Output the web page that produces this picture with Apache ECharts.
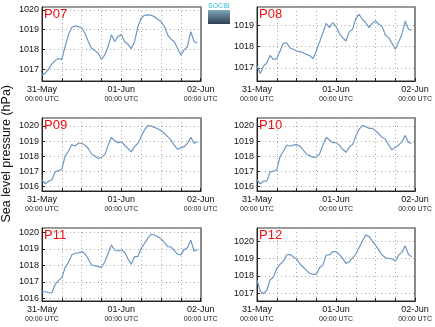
<!DOCTYPE html>
<html>
<head>
<meta charset="utf-8">
<script src="https://cdn.jsdelivr.net/npm/echarts@6/dist/echarts.min.js"></script>
<style>html,body{margin:0;padding:0;background:#fff}#c{width:435px;height:327px}</style>
</head>
<body>
<div id="c"></div>
<script>
// ---- data ----
const hours = [0,1,2,3,4,5,6,7,8,9,10,11,12,13,14,15,16,17,18,19,20,21,22,23,24,25,26,27,28,29,30,31,32,33,34,35,36,37,38,39,40,41,42,43,44,45,46,47];
const xTickHours = [0, 24, 48];
const xTickDates = ['31-May', '01-Jun', '02-Jun'];
const xTickTimes = ['00:00 UTC', '00:00 UTC', '00:00 UTC'];
const panelNames = ['P07', 'P08', 'P09', 'P10', 'P11', 'P12'];
const yMins = [1016.4, 1016.38, 1015.7, 1015.7, 1015.84, 1016.56];
const yMaxs = [1020.15, 1019.86, 1020.53, 1020.53, 1020.26, 1020.75];
const yTitle = 'Sea level pressure (hPa)';

const p07 = [1016.71,1016.80,1017.00,1017.27,1017.44,1017.54,1017.50,1018.15,1018.74,1019.12,1019.19,1019.16,1019.09,1018.82,1018.40,1018.06,1017.94,1017.81,1017.50,1017.72,1018.15,1018.74,1018.40,1018.65,1018.75,1018.40,1018.26,1018.04,1018.40,1019.16,1019.58,1019.73,1019.75,1019.73,1019.66,1019.53,1019.41,1019.16,1018.74,1018.52,1018.40,1018.06,1017.72,1017.98,1018.15,1018.90,1018.40,1018.31];
const p08 = [1017.08,1016.73,1017.08,1017.24,1017.58,1017.39,1017.43,1017.79,1018.15,1018.18,1017.94,1017.87,1017.79,1017.76,1017.71,1017.63,1017.58,1017.43,1017.79,1018.21,1018.65,1019.09,1018.89,1019.13,1018.94,1018.62,1018.42,1018.26,1018.69,1018.81,1019.31,1019.52,1019.28,1019.13,1018.89,1019.09,1019.20,1019.05,1018.94,1018.53,1018.42,1018.15,1017.87,1018.21,1018.57,1019.20,1018.81,1018.78];
const p09 = [1016.44,1016.18,1016.35,1016.44,1016.97,1017.05,1017.14,1018.02,1018.33,1018.77,1018.68,1018.86,1018.86,1018.73,1018.51,1018.15,1018.02,1017.85,1017.93,1018.09,1018.75,1019.25,1019.03,1018.90,1018.95,1018.73,1018.51,1018.29,1018.64,1018.86,1019.30,1019.74,1020.02,1020.00,1019.91,1019.82,1019.69,1019.52,1019.30,1019.08,1018.73,1018.46,1018.55,1018.64,1018.86,1019.25,1018.86,1018.95];
const p10 = [1016.44,1016.18,1016.35,1016.35,1016.97,1017.01,1017.10,1017.98,1018.33,1018.73,1018.68,1018.73,1018.77,1018.68,1018.42,1018.15,1018.04,1017.93,1017.96,1018.15,1018.75,1019.25,1019.08,1018.90,1018.90,1018.73,1018.46,1018.26,1018.59,1018.77,1019.34,1019.78,1020.04,1019.96,1019.85,1019.85,1019.69,1019.47,1019.25,1019.12,1018.73,1018.42,1018.59,1018.73,1018.95,1019.38,1018.90,1018.86];
const p11 = [1016.40,1016.40,1016.34,1016.34,1016.85,1017.09,1017.25,1017.86,1018.18,1018.63,1018.73,1018.75,1018.83,1018.71,1018.38,1018.02,1017.98,1017.92,1017.88,1018.22,1018.73,1019.23,1018.93,1018.87,1018.93,1018.79,1018.38,1018.06,1018.53,1018.53,1019.03,1019.33,1019.64,1019.88,1019.84,1019.74,1019.60,1019.39,1019.13,1019.11,1018.91,1018.67,1018.63,1018.95,1019.07,1019.52,1018.87,1018.95];
const p12 = [1017.76,1017.13,1016.98,1017.19,1017.78,1017.94,1018.43,1018.66,1018.85,1019.20,1019.24,1019.10,1018.97,1018.70,1018.51,1018.32,1018.15,1018.09,1018.09,1018.47,1018.62,1019.20,1019.20,1019.39,1019.39,1019.24,1019.01,1018.72,1018.81,1019.04,1019.24,1019.62,1020.00,1020.34,1020.27,1020.00,1019.77,1019.48,1019.20,1019.04,1019.01,1018.97,1018.85,1019.20,1019.35,1019.73,1019.24,1019.08];
const panelData = [p07, p08, p09, p10, p11, p12];

// ---- layout ----
const colLeft = [42, 257];
const colWidth = [158.7, 159];
const rowTop = [7, 118, 228];
const rowHeight = [74, 73, 73];
const FONT = 'Liberation Sans';

const grids = [], xAxes = [], yAxes = [], series = [], titles = [];
panelNames.forEach((name, i) => {
  const r = Math.floor(i / 2), c = i % 2;
  grids.push({left: colLeft[c], top: rowTop[r], width: colWidth[c], height: rowHeight[r],
    show: true, borderColor: '#333', borderWidth: 1, backgroundColor: '#fff'});
  xAxes.push({
    type: 'value', gridIndex: i, min: 0, max: 48, interval: 6,
    axisLine: {show: true, onZero: false, lineStyle: {color: '#222', width: 1}},
    axisTick: {show: true, inside: true, length: 3, lineStyle: {color: '#222'}},
    splitLine: {show: true, lineStyle: {color: '#aaa', type: [1, 3], width: 1}},
    axisLabel: {
      margin: 3, fontFamily: FONT, showMinLabel: true, showMaxLabel: true,
      formatter: v => {
        const k = xTickHours.indexOf(v);
        return k < 0 ? '' : '{d|' + xTickDates[k] + '}\n{u|' + xTickTimes[k] + '}';
      },
      rich: {
        d: {fontSize: 9, lineHeight: 11, color: '#111', fontFamily: FONT},
        u: {fontSize: 7, lineHeight: 9, color: '#222', fontFamily: FONT}
      }
    }
  });
  yAxes.push({
    type: 'value', gridIndex: i, min: yMins[i], max: yMaxs[i], splitNumber: 4,
    axisLine: {show: true, lineStyle: {color: '#222'}},
    axisTick: {show: true, inside: true, length: 3, lineStyle: {color: '#222'}},
    splitLine: {show: true, lineStyle: {color: '#aaa', type: [1, 3], width: 1}},
    axisLabel: {margin: 3, fontSize: 9, color: '#111', fontFamily: FONT,
      showMinLabel: false, showMaxLabel: false,
      formatter: v => (Math.abs(v - Math.round(v)) < 1e-6 ? String(Math.round(v)) : '')}
  });
  // right side frame (thicker grey)
  yAxes.push({
    type: 'value', gridIndex: i, position: 'right', min: yMins[i], max: yMaxs[i],
    axisLine: {show: true, lineStyle: {color: '#888', width: 2}},
    axisTick: {show: false}, axisLabel: {show: false}, splitLine: {show: false}
  });
  series.push({
    type: 'line', xAxisIndex: i, yAxisIndex: 2 * i, showSymbol: false, smooth: false,
    data: hours.map((h, k) => [h, panelData[i][k]]),
    lineStyle: {color: '#6f98c2', width: 1.2}, animation: false
  });
  titles.push({text: name, left: colLeft[c] + 2, top: rowTop[r] + 1, padding: 0,
    textStyle: {color: '#ee1111', fontSize: 13, fontWeight: 'normal', fontFamily: FONT}});
});

const chart = echarts.init(document.getElementById('c'), null, {renderer: 'canvas'});
chart.setOption({
  animation: false,
  title: titles,
  grid: grids,
  xAxis: xAxes,
  yAxis: yAxes,
  series: series,
  graphic: [
    {type: 'text', left: 0, top: 85, rotation: Math.PI / 2,
      style: {text: yTitle, fontSize: 12.5, fontFamily: FONT, fill: '#111'}},
    {type: 'rect', left: 208, top: 10, shape: {width: 22, height: 14},
      style: {fill: new echarts.graphic.LinearGradient(0, 0, 0, 1, [
        {offset: 0, color: '#7fa8b8'}, {offset: 1, color: '#2e3f50'}])}},
    {type: 'text', left: 208, top: 3, style: {text: 'SOCIB', fontSize: 7, fontFamily: FONT, fill: '#33bbcc'}}
  ]
});
</script>
</body>
</html>
